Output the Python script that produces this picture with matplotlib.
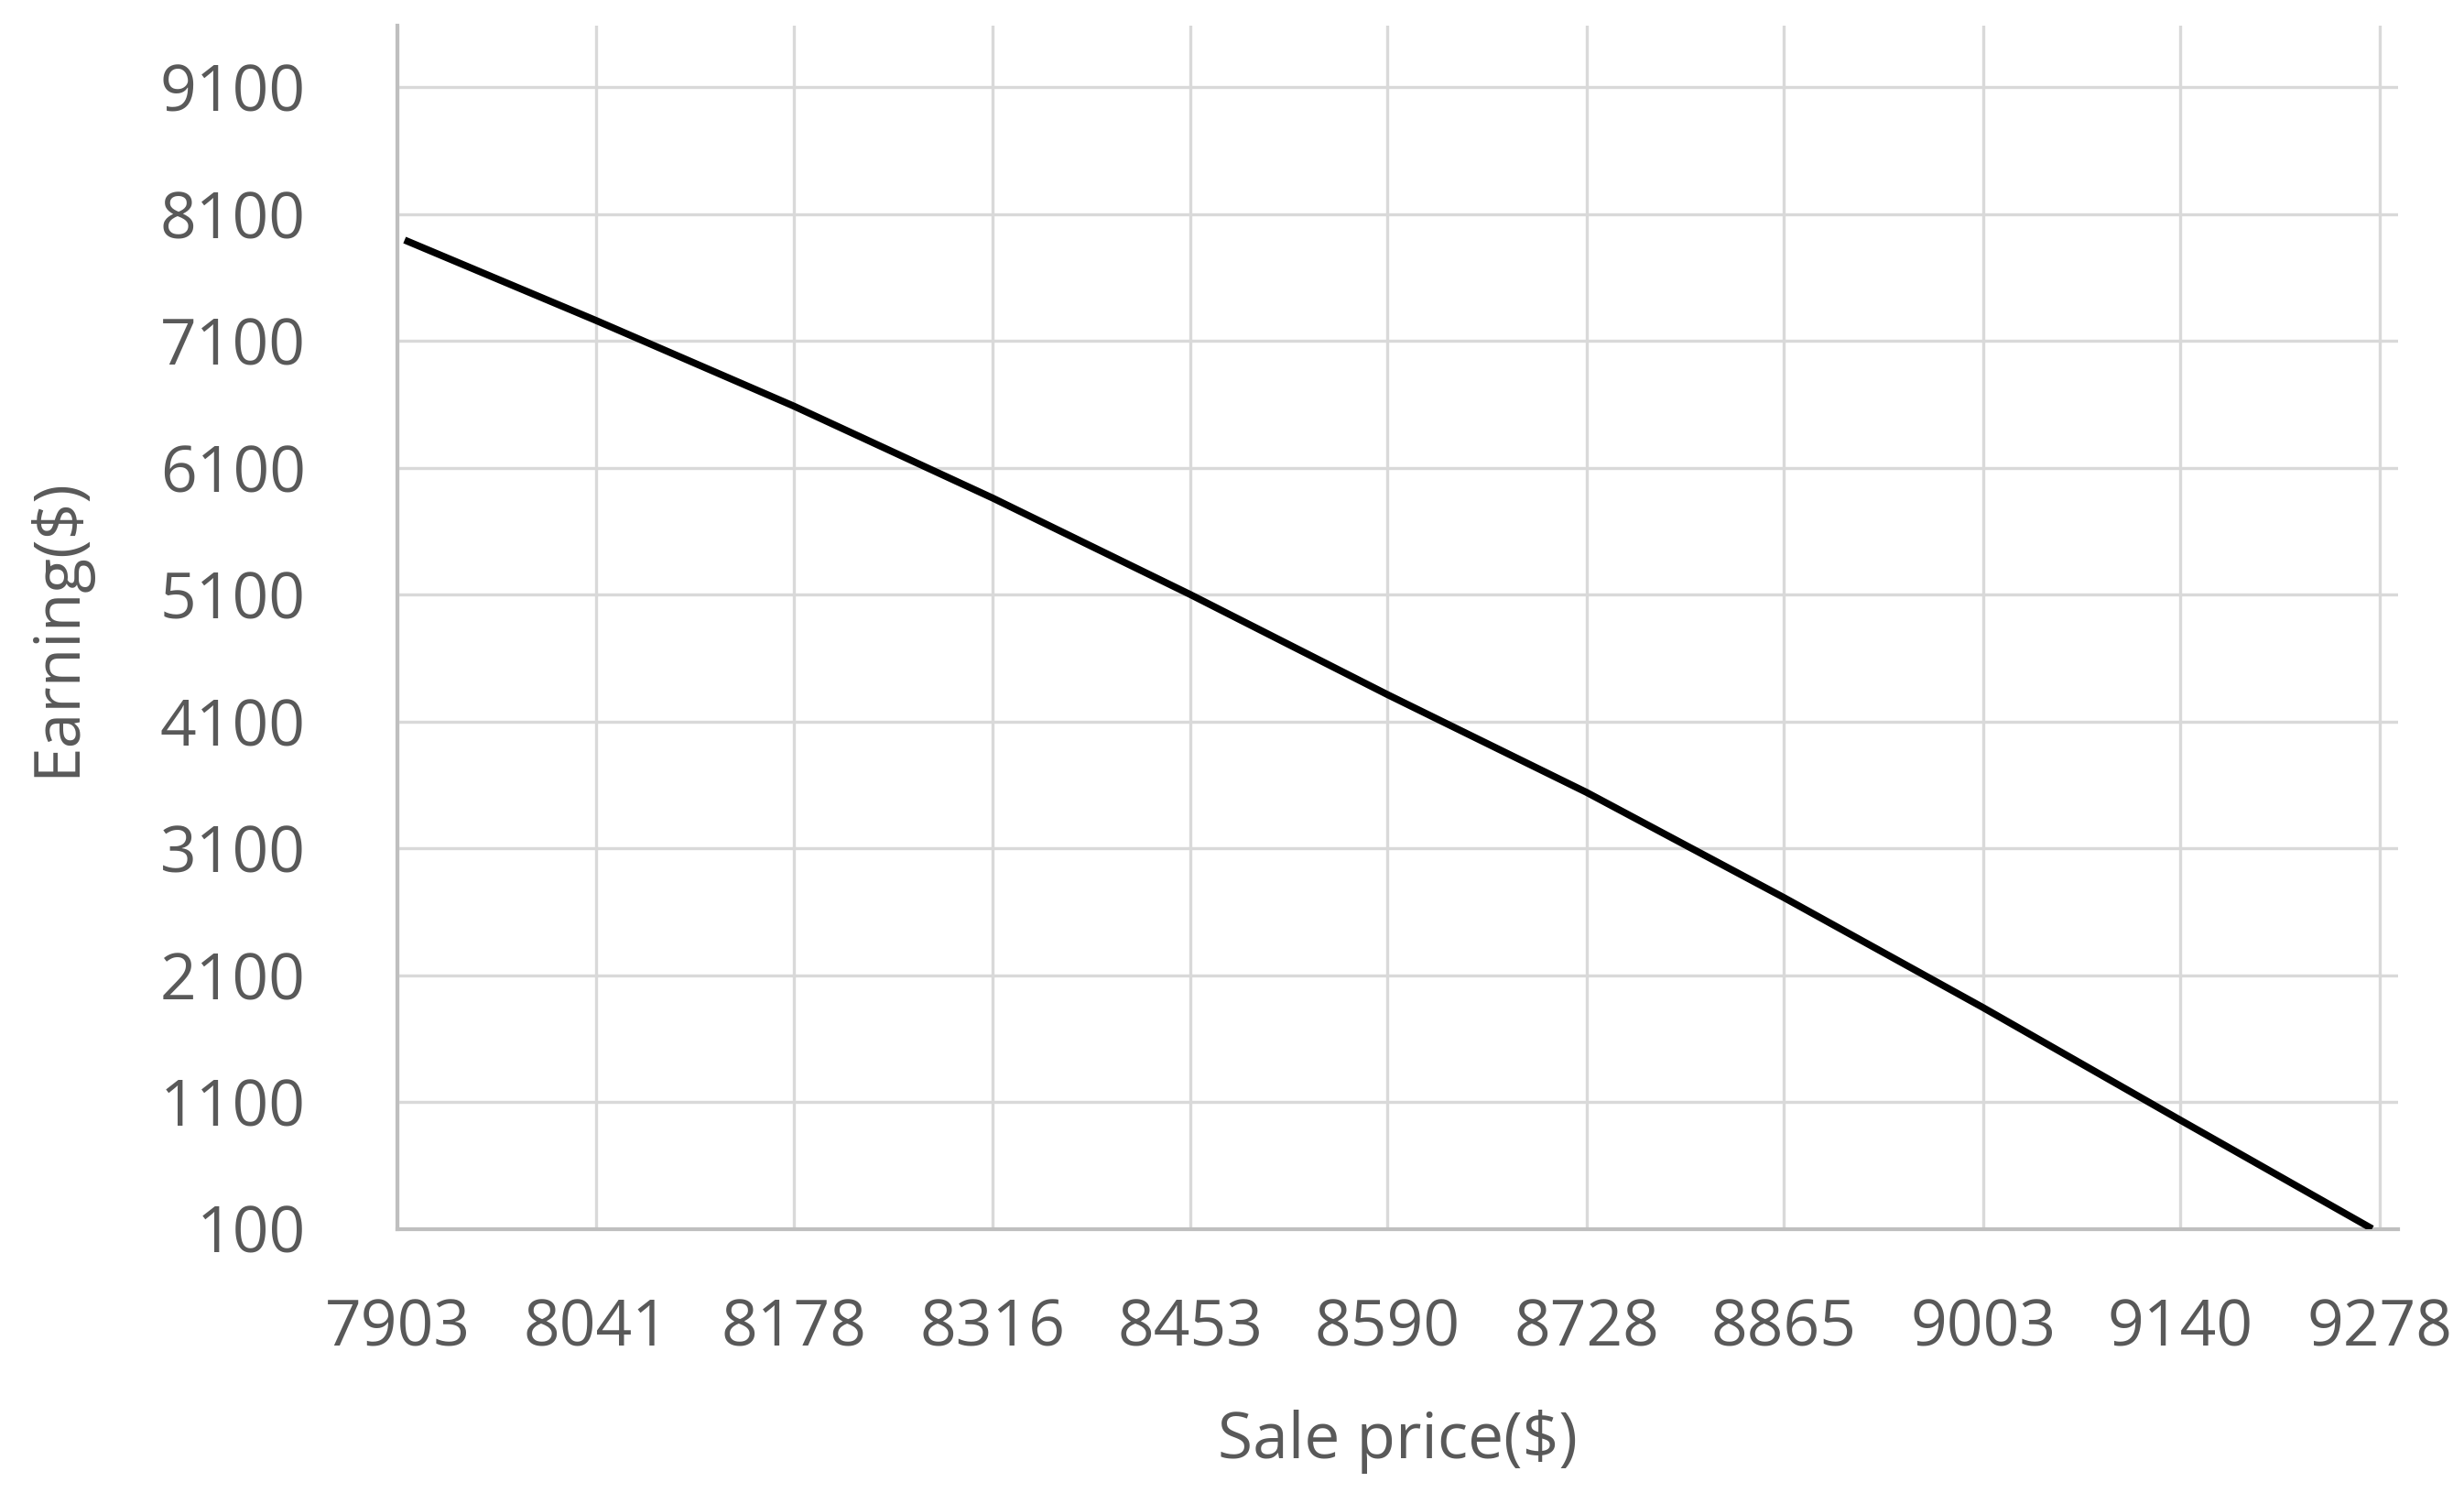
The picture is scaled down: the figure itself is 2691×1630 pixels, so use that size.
import matplotlib
matplotlib.use("Agg")
import matplotlib.pyplot as plt

# Data
sale_price = [7908, 8041, 8178, 8316, 8453, 8590, 8728, 8865, 9003, 9140, 9273]
earning = [7894, 7259, 6585, 5860, 5100, 4310, 3540, 2710, 1844, 956, 100]

x_ticks = [7903, 8041, 8178, 8316, 8453, 8590, 8728, 8865, 9003, 9140, 9278]
y_ticks = [100, 1100, 2100, 3100, 4100, 5100, 6100, 7100, 8100, 9100]

TEXT = "#595959"
GRID = "#d9d9d9"
AXIS = "#bfbfbf"
FONT = ["Open Sans", "DejaVu Sans"]
FS = 50

fig = plt.figure(figsize=(26.91, 16.30), dpi=100)
ax = fig.add_axes([434 / 2691, 1 - 1341.5 / 1630, (2619 - 434) / 2691, (1341.5 - 28) / 1630])

ax.plot(sale_price, earning, color="black", linewidth=5.5, solid_capstyle="butt", zorder=3)

ax.set_xlim(7903, 9291)
ax.set_ylim(100, 9584)
ax.set_xticks(x_ticks)
ax.set_xticklabels([str(v) for v in x_ticks])
ax.set_yticks(y_ticks)
ax.set_yticklabels([str(v) for v in y_ticks])

ax.grid(True, color=GRID, linewidth=2.4, zorder=0)
ax.set_axisbelow(True)
for s in ["top", "right"]:
    ax.spines[s].set_visible(False)
for s in ["left", "bottom"]:
    ax.spines[s].set_color(AXIS)
    ax.spines[s].set_linewidth(3)

ax.tick_params(axis="both", length=0, labelcolor=TEXT, labelsize=FS)
ax.tick_params(axis="y", pad=72)
ax.tick_params(axis="x", pad=54)
for lab in ax.get_xticklabels() + ax.get_yticklabels():
    lab.set_family(FONT)

ax.set_xlabel("Sale price($)", fontsize=FS, color=TEXT, family=FONT, labelpad=38)
ax.set_ylabel("Earning($)", fontsize=FS, color=TEXT, family=FONT, labelpad=55)

fig.savefig("out.png", dpi=100, facecolor="white")
